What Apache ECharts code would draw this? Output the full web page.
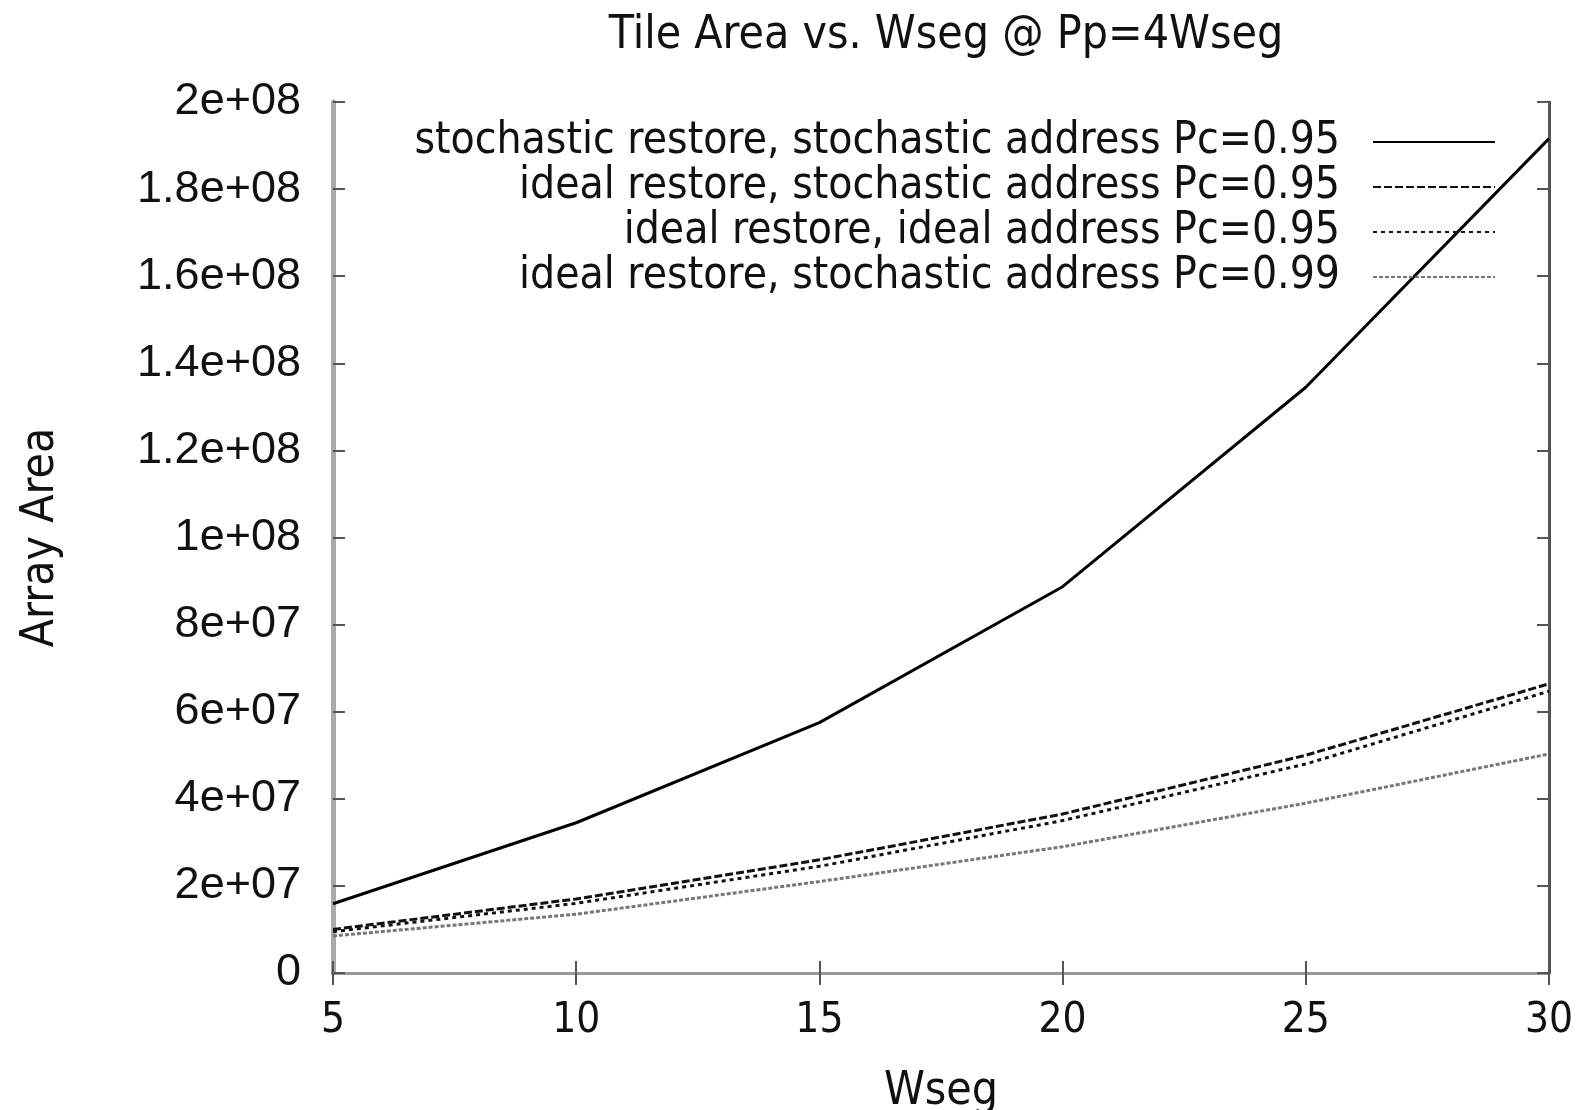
<!DOCTYPE html>
<html>
<head>
<meta charset="utf-8">
<script src="https://cdn.jsdelivr.net/npm/echarts@6/dist/echarts.min.js"></script>
<style>
  html, body { margin: 0; padding: 0; background: #fff; }
  #chart { width: 1595px; height: 1110px; }
</style>
</head>
<body>
<div id="chart"></div>
<script>
// data
var wseg = [5, 10, 15, 20, 25, 30];
var stochRestoreStochAddr95 = [15.9e6, 34.5e6, 57.5e6, 88.7e6, 134.5e6, 191.6e6];
var idealRestoreStochAddr95 = [10.0e6, 17.0e6, 26.0e6, 36.5e6, 50.0e6, 66.4e6];
var idealRestoreIdealAddr95 = [9.5e6, 16.0e6, 24.5e6, 35.0e6, 48.0e6, 64.7e6];
var idealRestoreStochAddr99 = [8.5e6, 13.5e6, 21.0e6, 29.0e6, 39.0e6, 50.3e6];

var seriesNames = [
  'stochastic restore, stochastic address Pc=0.95',
  'ideal restore, stochastic address Pc=0.95',
  'ideal restore, ideal address Pc=0.95',
  'ideal restore, stochastic address Pc=0.99'
];

var yTickLabels = ['0', '2e+07', '4e+07', '6e+07', '8e+07', '1e+08',
  '1.2e+08', '1.4e+08', '1.6e+08', '1.8e+08', '2e+08'];
var xTickLabels = ['5', '10', '15', '20', '25', '30'];

var narrow = "'Liberation Sans Narrow', 'DejaVu Sans Condensed', 'Liberation Sans', sans-serif";
var wide = "'Liberation Sans', 'DejaVu Sans', sans-serif";

function pairs(ys) {
  var out = [];
  for (var i = 0; i < wseg.length; i++) {
    out.push([wseg[i], ys[i]]);
  }
  return out;
}

var chart = echarts.init(document.getElementById('chart'));

var frame = { show: true, lineStyle: { color: '#555', width: 3 } };
var tick = { show: true, inside: true, length: 12, lineStyle: { color: '#555', width: 2 } };

chart.setOption({
  backgroundColor: '#fff',
  animation: false,
  title: {
    text: 'Tile Area vs. Wseg @ Pp=4Wseg',
    left: 941,
    textAlign: 'center',
    top: 8,
    textStyle: { fontFamily: narrow, fontWeight: 'normal', fontSize: 46, color: '#111' }
  },
  legend: {
    orient: 'vertical',
    right: 94,
    top: 115,
    align: 'right',
    itemWidth: 122,
    itemHeight: 20,
    itemGap: 1,
    itemStyle: { opacity: 0 },
    textStyle: { fontFamily: narrow, fontSize: 44, lineHeight: 44, color: '#111', padding: [0, 28, 0, 0] },
    data: seriesNames
  },
  grid: { left: 333, right: 46, top: 102, bottom: 137, outerBoundsMode: 'none', containLabel: false },
  xAxis: [{
    type: 'value',
    min: 5, max: 30, interval: 5,
    name: 'Wseg',
    nameLocation: 'middle',
    nameGap: 96,
    nameTextStyle: { fontFamily: narrow, fontSize: 46, color: '#111' },
    axisLine: frame,
    axisTick: tick,
    splitLine: { show: false },
    axisLabel: {
      margin: 27,
      fontFamily: narrow, fontSize: 42, color: '#111',
      formatter: function (v) { return xTickLabels[(v - 5) / 5]; }
    }
  }, {
    type: 'value',
    position: 'top',
    min: 5, max: 30, interval: 5,
    axisLine: { show: true, lineStyle: { color: '#999', width: 3 } },
    axisTick: tick,
    axisLabel: { show: false },
    splitLine: { show: false }
  }],
  yAxis: [{
    type: 'value',
    min: 0, max: 2e8, interval: 2e7,
    name: 'Array Area',
    nameLocation: 'middle',
    nameGap: 269,
    nameRotate: 90,
    nameTextStyle: { fontFamily: narrow, fontSize: 46, color: '#111' },
    axisLine: { show: true, lineStyle: { color: '#aaa', width: 5 } },
    axisTick: tick,
    splitLine: { show: false },
    axisLabel: {
      margin: 32,
      fontFamily: wide, fontSize: 45, color: '#111',
      formatter: function (v) { return yTickLabels[Math.round(v / 2e7)]; }
    }
  }, {
    type: 'value',
    position: 'right',
    min: 0, max: 2e8, interval: 2e7,
    axisLine: frame,
    axisTick: tick,
    axisLabel: { show: false },
    splitLine: { show: false }
  }],
  series: [{
    name: seriesNames[0],
    type: 'line',
    symbol: 'none',
    data: pairs(stochRestoreStochAddr95),
    lineStyle: { color: '#000', width: 3, type: 'solid' },
    itemStyle: { color: '#000' }
  }, {
    name: seriesNames[1],
    type: 'line',
    symbol: 'none',
    data: pairs(idealRestoreStochAddr95),
    lineStyle: { color: '#111', width: 3, type: [8, 3] },
    itemStyle: { color: '#111' }
  }, {
    name: seriesNames[2],
    type: 'line',
    symbol: 'none',
    data: pairs(idealRestoreIdealAddr95),
    lineStyle: { color: '#111', width: 3, type: [4, 4] },
    itemStyle: { color: '#111' }
  }, {
    name: seriesNames[3],
    type: 'line',
    symbol: 'none',
    data: pairs(idealRestoreStochAddr99),
    lineStyle: { color: '#777', width: 3, type: [4, 2] },
    itemStyle: { color: '#777' }
  }]
});
</script>
</body>
</html>
